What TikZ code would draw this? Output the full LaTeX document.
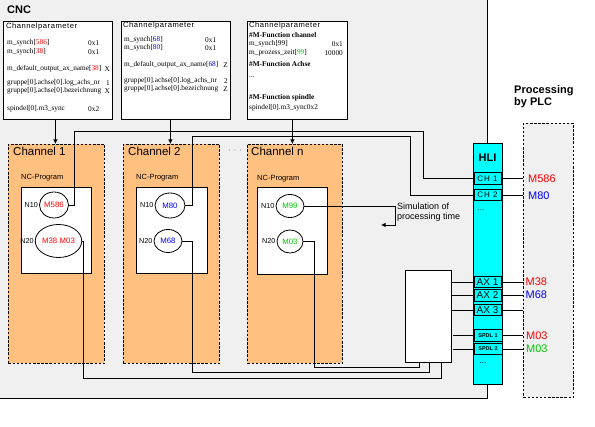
\documentclass[tikz,border=0pt]{standalone}
\usepackage{fontspec}
\setmainfont{Liberation Serif}
\setsansfont{Liberation Sans}
\newfontfamily\widesans[LetterSpace=12]{Liberation Sans}
\newfontfamily\headsans[LetterSpace=7]{Liberation Sans}
\usetikzlibrary{shapes.geometric,arrows.meta}
\definecolor{cncgray}{RGB}{240,240,240}
\definecolor{chorange}{RGB}{255,192,128}
\definecolor{hlicyan}{RGB}{0,255,255}
\definecolor{mred}{RGB}{255,0,0}
\definecolor{mblue}{RGB}{0,0,255}
\definecolor{mgreen}{RGB}{0,200,0}
\tikzset{
  lw/.style={line width=0.8pt},
  parbox/.style={draw, lw, fill=white, anchor=north west, inner sep=0pt},
  chanbox/.style={draw, lw, fill=chorange, dash pattern=on 2.5pt off 1.6pt, anchor=north west, inner sep=0pt},
  ncbox/.style={draw, lw, fill=white, anchor=north west, inner sep=0pt},
  mell/.style={draw, lw, ellipse, fill=white, inner sep=0pt, font=\sffamily\fontsize{7.8}{8}\selectfont},
  nlab/.style={inner sep=0pt, font=\sffamily\fontsize{7.2}{8}\selectfont},
  nctitle/.style={inner sep=0pt, anchor=west, font=\sffamily\fontsize{7.5}{8}\selectfont},
  chtitle/.style={inner sep=0pt, anchor=west, font=\sffamily\fontsize{11.5}{12}\selectfont},
  ptxt/.style={inner sep=0pt, anchor=west, font=\fontsize{7.3}{8}\selectfont},
  pval/.style={inner sep=0pt, anchor=east, font=\fontsize{7.3}{8}\selectfont},
  phead/.style={inner sep=0pt, anchor=west, font=\headsans\fontsize{7.6}{8}\selectfont},
  pbold/.style={inner sep=0pt, anchor=west, font=\bfseries\fontsize{7.3}{8}\selectfont},
  hlientry/.style={draw, lw, fill=hlicyan, inner sep=0pt, minimum width=27pt, minimum height=11.5pt},
  plclab/.style={inner sep=0pt, anchor=west, font=\sffamily\fontsize{11}{12}\selectfont},
  conn/.style={lw},
  arr/.style={lw, -{Latex[length=4.5pt,width=4.5pt]}},
}
\begin{document}
\begin{tikzpicture}[x=1pt,y=-1pt]
\useasboundingbox (0,0) rectangle (595,427);
\fill[white] (0,0) rectangle (595,427);

% CNC area
\node[fill=cncgray, anchor=north west, inner sep=0pt, minimum width=487pt, minimum height=398pt] (cnc) at (0,0) {};
\draw[lw] (cnc.north east) -- (cnc.south east) -- (cnc.south west);
\node[inner sep=0pt, anchor=west, font=\sffamily\bfseries\fontsize{11}{12}\selectfont] (cnctitle) at (7,10) {CNC};

% parameter boxes
\node[parbox, minimum width=109pt, minimum height=98pt] (pb1) at (3,21) {};
\node[parbox, minimum width=109pt, minimum height=98pt] (pb2) at (121,21) {};
\node[parbox, minimum width=100pt, minimum height=98pt] (pb3) at (247,21) {};

% box 1 text
\node[phead] (p1h) at (6,26.5) {Channelparameter};
\node[ptxt] (p1a) at (7,43) {m\_synch[\textcolor{mred}{586}]};
\node[ptxt] (p1av) at (88,43) {0x1};
\node[ptxt] (p1b) at (7,52) {m\_synch[\textcolor{mred}{38}]};
\node[ptxt] (p1bv) at (88,52) {0x1};
\node[ptxt] (p1c) at (7,69) {m\_default\_output\_ax\_name[\textcolor{mred}{38}]};
\node[pval] (p1cv) at (110,69) {X};
\node[ptxt] (p1d) at (7,83) {gruppe[0].achse[0].log\_achs\_nr};
\node[pval] (p1dv) at (110,83) {1};
\node[ptxt] (p1e) at (7,91) {gruppe[0].achse[0].bezeichnung};
\node[pval] (p1ev) at (110,91) {X};
\node[ptxt] (p1f) at (7,109) {spindel[0].m3\_sync};
\node[ptxt] (p1fv) at (88,109) {0x2};

% box 2 text
\node[phead] (p2h) at (123,26) {Channelparameter};
\node[ptxt] (p2a) at (124,40) {m\_synch[\textcolor{mblue}{68}]};
\node[ptxt] (p2av) at (205,40) {0x1};
\node[ptxt] (p2b) at (124,48) {m\_synch[\textcolor{mblue}{80}]};
\node[ptxt] (p2bv) at (205,48) {0x1};
\node[ptxt] (p2c) at (124,65) {m\_default\_output\_ax\_name[\textcolor{mblue}{68}]};
\node[pval] (p2cv) at (228,65) {Z};
\node[ptxt] (p2d) at (124,81) {gruppe[0].achse[0].log\_achs\_nr};
\node[pval] (p2dv) at (228,81) {2};
\node[ptxt] (p2e) at (124,89) {gruppe[0].achse[0].bezeichnung};
\node[pval] (p2ev) at (228,89) {Z};

% box 3 text
\node[phead] (p3h) at (249,26) {Channelparameter};
\node[pbold] (p3a) at (249,35) {\#M-Function channel};
\node[ptxt] (p3b) at (249,44) {m\_synch[99]};
\node[pval] (p3bv) at (343,44) {0x1};
\node[ptxt] (p3c) at (249,53) {m\_prozess\_zeit[\textcolor{mgreen}{99}]};
\node[pval] (p3cv) at (343,53) {10000};
\node[pbold] (p3d) at (249,64) {\#M-Function Achse};
\node[ptxt] (p3e) at (249,77) {...};
\node[pbold] (p3f) at (249,98) {\#M-Function spindle};
\node[ptxt] (p3g) at (249,108) {spindel[0].m3\_sync0x2};

% channel boxes
\node[chanbox, minimum width=96pt, minimum height=219pt] (ch1) at (8,144) {};
\node[chanbox, minimum width=96pt, minimum height=219pt] (ch2) at (123,144) {};
\node[chanbox, minimum width=95pt, minimum height=219pt] (chn) at (247,144) {};
\node[chtitle] (ch1t) at (13,151) {Channel 1};
\node[chtitle] (ch2t) at (128,151) {Channel 2};
\node[chtitle] (chnt) at (251,151) {Channel n};
\node[inner sep=0pt, font=\sffamily\fontsize{8}{8}\selectfont] (chdots) at (235,151) {$\cdot\,\cdot\,\cdot$};

% NC program boxes
\node[nctitle] (nc1t) at (21,178) {NC-Program};
\node[nctitle] (nc2t) at (136,178) {NC-Program};
\node[nctitle] (ncnt) at (257,179) {NC-Program};
\node[ncbox, minimum width=70pt, minimum height=86pt] (nc1) at (21,187) {};
\node[ncbox, minimum width=71pt, minimum height=86pt] (nc2) at (136,187) {};
\node[ncbox, minimum width=70pt, minimum height=87pt] (ncn) at (257,187) {};

% ellipses
\node[mell, minimum width=29pt, minimum height=26pt, text=mred] (e11) at (54,205) {M586};
\node[mell, minimum width=39pt, minimum height=33pt, text=mred] (e12) at (58.5,241) {M38\hspace{2.5pt}M03};
\node[mell, minimum width=30pt, minimum height=25pt, text=mblue] (e21) at (170,205.5) {M80};
\node[mell, minimum width=28pt, minimum height=23pt, text=mblue] (e22) at (168,241) {M68};
\node[mell, minimum width=28pt, minimum height=23pt, text=mgreen] (en1) at (290,206) {M99};
\node[mell, minimum width=26pt, minimum height=23pt, text=mgreen] (en2) at (290,241.5) {M03};
\node[nlab, anchor=east] (n11) at ([xshift=-1pt]e11.west) {N10};
\node[nlab, anchor=east] (n12) at ([xshift=-1pt]e12.west) {N20};
\node[nlab, anchor=east] (n21) at ([xshift=-1pt]e21.west) {N10};
\node[nlab, anchor=east] (n22) at ([xshift=-1pt]e22.west) {N20};
\node[nlab, anchor=east] (nn1) at ([xshift=-1pt]en1.west) {N10};
\node[nlab, anchor=east] (nn2) at ([xshift=-1pt]en2.west) {N20};

% parameter box -> channel arrows
\draw[arr] ([xshift=-2.5pt]pb1.south) -- ([xshift=-2.5pt]pb1.south |- ch1.north);
\draw[arr] ([xshift=-5.5pt]pb2.south) -- ([xshift=-5.5pt]pb2.south |- ch2.north);
\draw[arr] ([xshift=-5pt]pb3.south) -- ([xshift=-5pt]pb3.south |- chn.north);

% collector box
\node[parbox, minimum width=46pt, minimum height=92pt] (wbox) at (405,270) {};

% PLC box
\node[draw, lw, fill=cncgray, dash pattern=on 2.5pt off 1.6pt, anchor=north west, inner sep=0pt, minimum width=50pt, minimum height=274pt] (plc) at (523,123) {};
\node[inner sep=0pt, anchor=north west, align=left, font=\sffamily\bfseries\fontsize{11}{12.5}\selectfont] (plct) at (514,85) {Processing\\by PLC};

% HLI
\node[draw, lw, fill=hlicyan, anchor=north west, inner sep=0pt, minimum width=29pt, minimum height=241pt] (hli) at (473,143) {};
\node[inner sep=0pt, font=\sffamily\bfseries\fontsize{11}{12}\selectfont] (hlit) at (487.5,158) {HLI};
\node[hlientry, font=\widesans\fontsize{8}{8}\selectfont] (hch1) at (487.5,178.5) {CH 1};
\node[hlientry, font=\widesans\fontsize{8}{8}\selectfont] (hch2) at (487.5,195) {CH 2};
\node[inner sep=0pt, font=\sffamily\fontsize{8}{8}\selectfont] (hdots1) at (481,210) {...};
\node[hlientry, font=\sffamily\fontsize{10}{10}\selectfont] (hax1) at (487.5,282) {AX 1};
\node[hlientry, font=\sffamily\fontsize{10}{10}\selectfont] (hax2) at (487.5,295.5) {AX 2};
\node[hlientry, font=\sffamily\fontsize{10}{10}\selectfont] (hax3) at (487.5,310) {AX 3};
\node[hlientry, minimum width=28pt, font=\sffamily\bfseries\fontsize{5.5}{6}\selectfont] (hsp1) at (488,335.5) {SPDL 1};
\node[hlientry, minimum width=28pt, font=\sffamily\bfseries\fontsize{5.5}{6}\selectfont] (hsp2) at (488,349) {SPDL 2};
\node[inner sep=0pt, font=\sffamily\fontsize{8}{8}\selectfont] (hdots2) at (483,363) {...};

% channel M-functions -> HLI channel entries
\draw[conn] (e11.east) -| (74,131) -| (423,178.5) -- (hch1.west);
\draw[conn] (e21.east) -| (192,136) -| (410,195) -- (hch2.west);

% simulation of processing time
\coordinate (simtip) at (381,225);
\draw[arr] (en1.east) -| (395,225) -- (simtip);
\node[inner sep=0pt, anchor=north west, align=left, font=\sffamily\fontsize{9}{10}\selectfont] (simtxt) at (397,203) {Simulation of\\processing time};

% axis / spindle M-functions -> collector box
\draw[conn] (e12.east) -| (83,378) -| ([xshift=13pt]wbox.south);
\draw[conn] (e22.east) -| (192,372) -| ([xshift=1pt]wbox.south);
\draw[conn] (en2.east) -| (314,367) -| ([xshift=-9pt]wbox.south);

% collector box -> HLI entries
\draw[conn] (hax1.west -| wbox.east) -- (hax1.west);
\draw[conn] (hax2.west -| wbox.east) -- (hax2.west);
\draw[conn] (hax3.west -| wbox.east) -- (hax3.west);
\draw[conn] ([xshift=1pt]hsp1.west -| wbox.east) -- (hsp1.west);
\draw[conn] ([xshift=1pt]hsp2.west -| wbox.east) -- (hsp2.west);

% HLI -> PLC
\draw[conn] (hch1.east) -- (hch1.east -| plc.west);
\draw[conn] (hch2.east) -- (hch2.east -| plc.west);
\draw[conn] (hax1.east) -- (hax1.east -| plc.west);
\draw[conn] (hax2.east) -- (hax2.east -| plc.west);
\draw[conn] (hax3.east) -- (hax3.east -| plc.west);
\draw[conn] (hsp1.east) -- (hsp1.east -| plc.west);
\draw[conn] (hsp2.east) -- (hsp2.east -| plc.west);

\node[plclab, text=mred] (l586) at (528,179) {M586};
\node[plclab, text=mblue] (l80) at (528,195.5) {M80};
\node[plclab, text=mred] (l38) at (525.5,282) {M38};
\node[plclab, text=mblue] (l68) at (525.5,295) {M68};
\node[plclab, text=mred] (l03a) at (526,336) {M03};
\node[plclab, text=mgreen] (l03b) at (526,349) {M03};
\end{tikzpicture}
\end{document}
